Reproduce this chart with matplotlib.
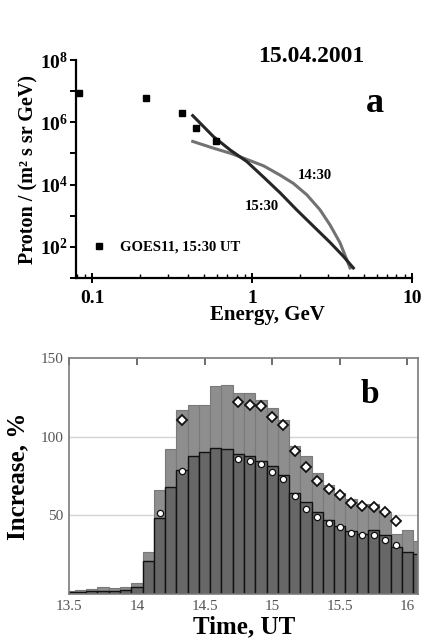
import numpy as np
import matplotlib
matplotlib.use("Agg")
import matplotlib.pyplot as plt
from matplotlib.ticker import FixedLocator, LogLocator, NullFormatter, NullLocator

plt.rcParams['font.family'] = ['Liberation Serif', 'DejaVu Serif']
plt.rcParams['mathtext.fontset'] = 'custom'
plt.rcParams['mathtext.rm'] = 'Liberation Serif:bold'
plt.rcParams['mathtext.bf'] = 'Liberation Serif:bold'
plt.rcParams['mathtext.default'] = 'bf'

# panel a: proton spectra
goes_energy = [0.083, 0.218, 0.365, 0.447, 0.596]
goes_flux = [8.5e6, 5.9e6, 1.95e6, 6.8e5, 2.6e5]

e_1530 = [0.426, 0.573, 0.729, 0.927, 1.18, 1.50, 1.90, 2.42, 3.07, 3.72, 4.30]
f_1530 = [1.64e6, 3.5e5, 1.3e5, 5.5e4, 1.74e4, 5.4e3, 1.55e3, 4.6e2, 1.4e2, 50, 21]

e_1430 = [0.426, 0.573, 0.729, 0.883, 1.18, 1.50, 1.81, 2.20, 2.66, 3.07, 3.55, 3.91, 4.10]
f_1430 = [2.43e5, 1.48e5, 1.02e5, 7.1e4, 4.0e4, 2.0e4, 1.1e4, 4.7e3, 1.55e3, 5.1e2,
          1.35e2, 39, 21]

yticks_a = [1e1, 1e2, 1e3, 1e4, 1e5, 1e6, 1e7, 1e8]
ytick_labels_a = ['', '10$^{2}$', '', '10$^{4}$', '', '10$^{6}$', '', '10$^{8}$']

# panel b: increase, 5-min bins
t0 = 13.5
dt = 1 / 12
inc_light = [2, 2.5, 3.4, 4.7, 3.8, 4.7, 7.2, 27, 66.5, 92, 117.4, 120.5, 120.5,
             132.6, 133.3, 128, 128, 123.7, 118.4, 111, 94.5, 87.7, 76.7, 69.3,
             64.4, 60.2, 57, 57, 52, 38, 40.7, 33.7]
inc_dark = [1.5, 1.5, 2, 2, 2, 2.5, 4.7, 20.8, 48.5, 68.2, 79, 87.7, 90.2,
            93, 92, 88.8, 88.1, 84.5, 81.4, 76, 64.4, 58.5, 52, 47,
            43.2, 40, 38, 40.7, 37.3, 30, 26.7, 25.2]
times = t0 + dt * np.arange(len(inc_light))

diam_t = [14.333, 14.75, 14.833, 14.917, 15.0, 15.083, 15.167, 15.25, 15.333,
          15.417, 15.5, 15.583, 15.667, 15.75, 15.833, 15.917]
diam_v = [110.6, 122, 120.3, 119.5, 112.7, 107.6, 90.9, 80.7, 71.8,
          67, 62.7, 58, 56, 55.5, 52.1, 46.6]
circ_t = [14.167, 14.333, 14.75, 14.833, 14.917, 15.0, 15.083, 15.167, 15.25,
          15.333, 15.417, 15.5, 15.583, 15.667, 15.75, 15.833, 15.917]
circ_v = [51.7, 78.2, 85.6, 84.7, 82.8, 77.5, 73.3, 62.3, 53.8,
          49, 45.1, 42.4, 39, 37.3, 37.3, 34.3, 30.9]

fig = plt.figure(figsize=(4.28, 6.43), dpi=100)

# ---- panel a
ax = fig.add_axes([76/428, 1-278/643, 336/428, 218/643])
ax.set_xscale('log'); ax.set_yscale('log')
ax.plot(e_1430, f_1430, color='#727272', lw=2.2)
ax.plot(e_1530, f_1530, color='#262626', lw=2.2)
ax.plot(goes_energy, goes_flux, 's', color='black', ms=4.5, clip_on=False,
        label='GOES11, 15:30 UT')
ax.set_xlim(0.0794, 10)
ax.set_ylim(10, 1e8)
for s in ['top', 'right']:
    ax.spines[s].set_visible(False)
for s in ['left', 'bottom']:
    ax.spines[s].set_linewidth(1.6)
ax.xaxis.set_major_locator(FixedLocator([0.1, 1, 10]))
ax.set_xticklabels(['0.1', '1', '10'], fontsize=14, fontweight='bold')
ax.xaxis.set_minor_locator(LogLocator(base=10, subs=np.arange(2, 10)))
ax.xaxis.set_minor_formatter(NullFormatter())
ax.tick_params(axis='x', which='major', direction='inout', length=7, width=1.4, pad=5)
ax.tick_params(axis='x', which='minor', direction='in', length=3, width=1.0)
ax.yaxis.set_major_locator(FixedLocator(yticks_a))
ax.yaxis.set_minor_locator(NullLocator())
ax.set_yticklabels(ytick_labels_a, fontsize=14, fontweight='bold')
ax.tick_params(axis='y', direction='out', length=4, width=1.4, pad=2)
ax.set_xlabel('Energy, GeV', fontsize=15, fontweight='bold')
ax.xaxis.set_label_coords(0.571, -0.125)
ax.xaxis.label.set_verticalalignment('top')
ax.set_ylabel('Proton / (m² s sr GeV)', fontsize=14.5, fontweight='bold', labelpad=1)
ax.text(0.70, 1.015, '15.04.2001', transform=ax.transAxes, fontsize=17,
        fontweight='bold', ha='center', va='center')
ax.text(0.89, 0.80, 'a', transform=ax.transAxes, fontsize=26,
        fontweight='bold', ha='center', va='center')
ax.text(0.711, 0.469, '14:30', transform=ax.transAxes, fontsize=10.5,
        fontweight='bold', ha='center', va='center')
ax.text(0.553, 0.330, '15:30', transform=ax.transAxes, fontsize=10.5,
        fontweight='bold', ha='center', va='center')
leg = ax.legend(loc='center left', bbox_to_anchor=(0.03, 0.141), frameon=False,
                handlelength=1.0, handletextpad=0.9, borderaxespad=0,
                prop={'weight': 'bold', 'size': 10.5})

# ---- panel b
bx = fig.add_axes([69.3/428, 1-594/643, 349/428, 235.7/643])
bx.axhline(50, color='#d4d4d4', lw=1, zorder=0)
bx.axhline(100, color='#d4d4d4', lw=1, zorder=0)
bx.bar(times, inc_light, width=dt, color='#8e8e8e', edgecolor='#7a7a7a',
       linewidth=0.8, zorder=1)
bx.bar(times, inc_dark, width=dt, color='#676767', edgecolor='#111111',
       linewidth=1.0, zorder=2)
bx.plot(diam_t, diam_v, 'D', ms=5.5, mfc='white', mec='#111111', mew=1.3, zorder=3)
bx.plot(circ_t, circ_v, 'o', ms=4.5, mfc='white', mec='#111111', mew=0.9, zorder=3)
bx.set_xlim(13.5, 16.08)
bx.set_ylim(0, 150)
for s in bx.spines.values():
    s.set_color('#7a7a7a'); s.set_linewidth(1.2)
bx.set_xticks([13.5, 14, 14.5, 15, 15.5, 16])
bx.set_xticklabels(['13.5', '14', '14.5', '15', '15.5', '16'])
bx.set_yticks([50, 100, 150])
bx.tick_params(axis='both', labelsize=11, labelcolor='#555555', length=0, pad=4)
bx.tick_params(axis='x', top=True, bottom=False, which='major', direction='in',
               length=5, color='#555555', width=1.2)
bx.set_xlabel('Time, UT', fontsize=18, fontweight='bold', labelpad=2)
bx.set_ylabel('Increase, %', fontsize=18, fontweight='bold', labelpad=8)
bx.text(0.862, 0.845, 'b', transform=bx.transAxes, fontsize=24,
        fontweight='bold', ha='center', va='center')

fig.savefig('out.png', dpi=100)
